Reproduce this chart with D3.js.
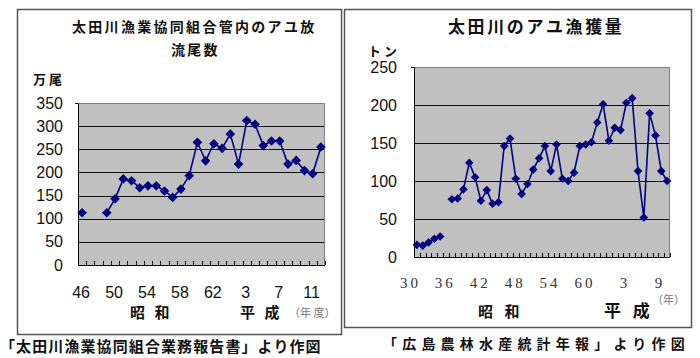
<!DOCTYPE html>
<html><head><meta charset="utf-8">
<script src="https://cdn.jsdelivr.net/npm/d3@7"></script>
<style>
body{margin:0;background:#fff;}
svg{display:block;}
</style>
</head><body>
<svg id="c" width="700" height="358"></svg>
<script>
// ---- Left chart: stocking (万尾), fiscal years 昭和46 – 平成12
const leftCategories = ["S46","S47","S48","S49","S50","S51","S52","S53","S54","S55","S56","S57","S58","S59","S60","S61","S62","S63",
  "H1","H2","H3","H4","H5","H6","H7","H8","H9","H10","H11","H12"];
const leftValues = [113,null,null,113,143,186,182,167,171,171,160,146,164,193,265,225,262,252,
  283,218,312,304,258,268,268,218,226,204,197,255];
const leftTicks = ["S46","S50","S54","S58","S62","H3","H7","H11"];
const leftTickText = ["46","50","54","58","62","3","7","11"];
const leftYTicks = [0,50,100,150,200,250,300,350];

// ---- Right chart: catch (トン), years 昭和30 – 平成10
const rightCategories = ["S30","S31","S32","S33","S34","S35","S36","S37","S38","S39","S40","S41","S42","S43","S44","S45","S46","S47","S48","S49",
  "S50","S51","S52","S53","S54","S55","S56","S57","S58","S59","S60","S61","S62","S63",
  "H1","H2","H3","H4","H5","H6","H7","H8","H9","H10"];
const rightValues = [16,15,19,24,27,null,76,77,89,124,105,74,88,70,72,146,156,103,83,96,
  115,130,146,113,148,103,100,111,146,148,151,177,201,153,
  170,167,203,209,113,52,189,160,113,100];
const rightTicks = ["S30","S36","S42","S48","S54","S60","H3","H9"];
const rightTickText = ["30","36","42","48","54","60","3","9"];
const rightYTicks = [0,50,100,150,200,250];

const svg = d3.select("#c");
const NAVY = "#000080";
const JP = "'Noto Sans CJK JP','Noto Sans',sans-serif";
const NUM = "'Liberation Sans',Arial,sans-serif";

function diamond(r){ return `M0,${-r}L${r},0L0,${r}L${-r},0Z`; }

function drawChart(cfg){
  const g = svg.append("g");
  const x = d3.scaleBand().domain(cfg.categories).range([cfg.x0, cfg.x1]);
  const y = d3.scaleLinear().domain([0, cfg.ymax]).range([cfg.y1, cfg.y0]);
  g.append("rect").attr("x", cfg.x0).attr("y", cfg.y0).attr("width", cfg.x1-cfg.x0).attr("height", cfg.y1-cfg.y0)
    .attr("fill", "#c0c0c0");
  g.append("g").selectAll("line").data(cfg.yTicks.filter(v=>v>0 && v<cfg.ymax)).join("line")
    .attr("x1", cfg.x0).attr("x2", cfg.x1).attr("y1", d=>Math.round(y(d))+0.5).attr("y2", d=>Math.round(y(d))+0.5)
    .attr("stroke", "#111").attr("stroke-width", 1);
  g.append("path").attr("d", `M${cfg.x0},${cfg.y0+0.5}H${cfg.x1-0.5}V${cfg.y1}`).attr("fill","none")
    .attr("stroke", "#808080").attr("stroke-width", 1);
  const ya = d3.axisLeft(y).tickValues(cfg.yTicks).tickSize(0).tickPadding(cfg.yPad).tickFormat(d3.format("d"));
  const yg = g.append("g").attr("transform", `translate(${cfg.x0},0)`).call(ya);
  yg.select(".domain").attr("stroke", "#000");
  yg.selectAll("text").attr("font-family", NUM).attr("font-size", 16).attr("fill", "#111");
  g.append("line").attr("x1", cfg.x0-3).attr("x2", cfg.x0).attr("y1", cfg.y0+0.5).attr("y2", cfg.y0+0.5).attr("stroke","#000");
  g.append("line").attr("x1", cfg.x0).attr("x2", cfg.x1).attr("y1", cfg.y1+0.5).attr("y2", cfg.y1+0.5).attr("stroke","#000");
  const bounds = cfg.categories.map(c=>x(c)).concat([cfg.x1]);
  g.append("g").selectAll("line").data(bounds).join("line")
    .attr("x1", d=>Math.round(d)+0.5).attr("x2", d=>Math.round(d)+0.5).attr("y1", cfg.y1).attr("y2", cfg.y1-4)
    .attr("stroke","#000");
  g.append("g").selectAll("text").data(cfg.ticks).join("text")
    .attr("x", (d)=>x(d)+x.bandwidth()/2 + cfg.labelDx)
    .attr("y", cfg.labelY)
    .attr("text-anchor", cfg.labelAnchor)
    .attr("font-family", cfg.labelFont).attr("font-size", cfg.labelSize)
    .attr("letter-spacing", cfg.labelSpacing)
    .attr("fill", cfg.labelColor)
    .text((d,i)=>cfg.tickText[i]);
  const pts = cfg.categories.map((c,i)=>({c, v: cfg.values[i]}));
  const line = d3.line().defined(d=>d.v!=null).x(d=>x(d.c)+x.bandwidth()/2).y(d=>y(d.v));
  g.append("path").attr("d", line(pts)).attr("fill","none").attr("stroke", NAVY).attr("stroke-width", 1.6);
  g.append("g").selectAll("path").data(pts.filter(d=>d.v!=null)).join("path")
    .attr("d", diamond(cfg.r))
    .attr("transform", d=>`translate(${x(d.c)+x.bandwidth()/2},${y(d.v)})`)
    .attr("fill", NAVY);
}

svg.append("rect").attr("x",17.5).attr("y",9.5).attr("width",324).attr("height",325).attr("fill","none").attr("stroke","#555").attr("stroke-width",1.5);
svg.append("rect").attr("x",344.5).attr("y",9.5).attr("width",347).attr("height",318).attr("fill","none").attr("stroke","#555").attr("stroke-width",1.5);

drawChart({categories:leftCategories, values:leftValues, ymax:350, yTicks:leftYTicks,
  x0:78, x1:325, y0:103, y1:265, yPad:15, ticks:leftTicks, tickText:leftTickText,
  labelY:297.5, labelAnchor:"middle", labelDx:-1, labelFont:NUM, labelSize:16, labelSpacing:0, labelColor:"#111", r:4.8});

drawChart({categories:rightCategories, values:rightValues, ymax:250, yTicks:rightYTicks,
  x0:414, x1:670, y0:67, y1:257, yPad:17, ticks:rightTicks, tickText:rightTickText,
  labelY:288, labelAnchor:"end", labelDx:4, labelFont:"'Liberation Serif','DejaVu Serif',serif", labelSize:15, labelSpacing:3, labelColor:"#333", r:4.3});

function txt(s, x, y, size, opts={}){
  svg.append("text").attr("x",x).attr("y",y).attr("font-family", opts.font||JP).attr("font-size",size)
    .attr("font-weight", opts.weight||"bold").attr("text-anchor", opts.anchor||"start")
    .attr("letter-spacing", opts.ls||0).attr("fill", opts.fill||"#111").text(s);
}
txt("太田川漁業協同組合管内のアユ放", 72, 32, 14, {ls:2.3});
txt("流尾数", 171, 55, 14, {ls:2.3});
txt("万 尾", 33, 84, 13);
txt("昭 和", 130, 318, 15, {ls:3});
txt("平 成", 240, 318, 15, {ls:3});
txt("（年 度）", 289, 317, 11, {weight:"normal", fill:"#777"});
txt("「太田川漁業協同組合業務報告書」より作図", 0, 352, 15, {ls:1.1});
txt("太田川のアユ漁獲量", 448, 33, 17, {ls:2.6});
txt("ト ン", 368, 56, 13);
txt("昭 和", 478, 317, 15, {ls:4});
txt("平 成", 604, 317, 17, {ls:4});
txt("（年）", 652, 304, 11, {weight:"normal", fill:"#777"});
txt("「広島農林水産統計年報」より作図", 383, 349, 14, {ls:5.2});
</script>
</body></html>
